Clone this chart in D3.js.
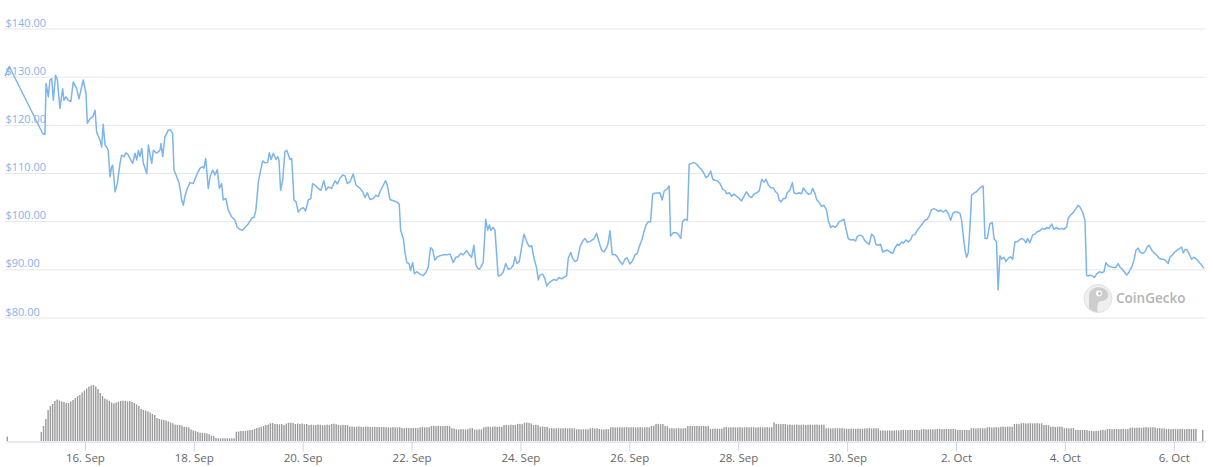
<!DOCTYPE html>
<html><head><meta charset="utf-8">
<script src="https://cdn.jsdelivr.net/npm/d3@7"></script>
<style>html,body{margin:0;padding:0;background:#fff;} svg{display:block;font-family:"Open Sans",sans-serif;}</style>
</head><body>
<svg id="chart" width="1213" height="467"></svg>
<script>
// ---- data ----
const startTime = Date.UTC(2020, 8, 14, 13); // hour 0
const endHour = 529;
const priceTicks = [80, 90, 100, 110, 120, 130, 140];
const dateTicks = ["2020-09-16","2020-09-18","2020-09-20","2020-09-22","2020-09-24","2020-09-26","2020-09-28","2020-09-30","2020-10-02","2020-10-04","2020-10-06"];
// [hours since start, price USD]
const priceSeries = [[0,130.0],[1.9,132.0],[16.6,118.1],[17.6,117.9],[18.1,128.5],[19.1,125.7],[19.8,129.2],[20.6,129.5],[21.3,125.0],[22.3,130.2],[23.1,129.2],[24.2,123.3],[25.4,127.4],[26.0,125.0],[26.9,125.7],[27.9,125.0],[29.0,124.7],[30.1,128.8],[31.6,127.4],[32.6,125.3],[33.8,127.8],[34.5,129.2],[35.7,126.4],[36.3,120.2],[37.5,121.2],[38.7,121.6],[39.7,122.9],[40.4,118.4],[41.9,116.7],[42.6,115.3],[43.3,120.0],[44.1,115.7],[44.8,115.3],[45.5,114.6],[46.3,109.1],[47.0,111.2],[47.5,111.5],[48.5,106.0],[49.5,107.7],[50.7,111.9],[51.4,113.6],[52.5,113.3],[53.3,114.1],[54.4,113.6],[55.4,112.6],[56.3,111.9],[57.3,114.0],[58.1,112.6],[58.8,114.6],[59.5,113.3],[60.3,115.0],[61.0,111.9],[62.5,109.8],[63.2,115.7],[64.7,111.9],[65.4,114.6],[66.9,114.0],[68.3,114.6],[68.8,116.0],[69.5,113.3],[70.5,117.4],[72.0,118.8],[73.0,118.8],[73.9,118.1],[74.5,110.5],[75.7,109.1],[76.8,107.7],[77.9,104.3],[78.6,103.2],[79.3,105.0],[80.1,106.3],[81.5,107.9],[83.0,107.7],[84.5,109.5],[86.0,110.9],[87.1,111.2],[87.7,110.9],[88.5,112.9],[89.6,106.7],[90.4,109.1],[91.6,110.5],[92.6,109.5],[93.6,110.6],[94.5,106.7],[95.5,107.7],[96.2,104.3],[97.4,104.6],[98.4,102.2],[99.9,100.8],[101.4,100.1],[102.4,98.6],[103.6,98.2],[104.6,98.0],[105.8,98.6],[107.2,99.3],[108.7,100.5],[109.8,100.7],[110.6,102.2],[111.7,108.1],[112.7,110.5],[113.6,112.4],[114.6,112.0],[115.8,112.1],[116.5,114.1],[117.3,112.7],[118.3,114.0],[119.5,112.7],[120.2,113.3],[120.8,112.5],[121.5,106.3],[122.4,108.4],[123.4,114.3],[124.2,114.6],[124.7,114.0],[125.6,112.7],[126.4,112.9],[127.4,104.3],[128.3,103.9],[129.3,101.8],[130.5,102.5],[131.5,102.7],[132.5,102.0],[133.7,104.3],[134.8,104.6],[135.6,107.7],[136.6,107.4],[138.1,106.7],[139.2,106.3],[139.7,107.0],[140.6,108.3],[141.5,106.3],[142.5,107.0],[144.0,106.7],[145.5,108.3],[146.5,107.6],[147.7,108.8],[148.9,109.5],[149.9,109.3],[150.9,107.7],[152.1,108.1],[153.5,109.7],[154.7,107.4],[156.5,106.7],[157.7,106.0],[158.7,104.8],[159.7,105.8],[160.9,104.4],[162.3,104.6],[163.5,105.3],[164.6,105.0],[165.6,106.3],[166.8,107.4],[167.8,108.3],[168.5,107.4],[169.7,104.4],[171.5,104.1],[172.7,103.9],[173.8,103.4],[174.4,98.0],[175.6,96.3],[176.3,93.5],[177.1,91.3],[178.1,91.1],[178.8,89.7],[179.7,91.3],[180.5,89.0],[181.6,89.4],[182.9,88.9],[184.4,88.6],[185.6,89.3],[186.6,90.4],[187.6,94.4],[188.5,94.0],[189.5,91.8],[190.6,92.5],[191.7,92.7],[193.2,92.9],[194.7,92.9],[196.2,93.1],[197.6,91.3],[198.7,92.4],[199.8,92.5],[200.9,93.2],[202.0,92.9],[203.5,93.8],[204.7,92.9],[205.7,92.4],[206.7,94.9],[207.6,90.8],[208.4,90.1],[209.1,89.9],[209.8,90.4],[210.8,91.3],[211.9,100.3],[212.8,98.0],[213.5,99.1],[214.2,98.0],[215.2,98.6],[216.0,98.0],[217.4,88.5],[218.6,88.7],[219.7,89.4],[220.7,91.1],[221.9,89.9],[223.0,90.1],[224.1,90.8],[224.8,92.5],[225.8,91.1],[226.7,91.5],[227.8,94.6],[228.8,97.2],[230.0,95.6],[231.1,94.6],[232.2,94.8],[233.2,92.2],[234.4,90.1],[235.1,87.7],[235.8,88.7],[237.0,88.9],[238.0,88.0],[238.8,86.4],[239.8,87.1],[241.0,87.5],[242.0,87.8],[243.2,87.6],[244.2,88.2],[245.4,87.9],[246.8,88.4],[247.6,88.6],[248.3,92.2],[249.4,93.4],[250.2,92.2],[251.3,91.5],[252.3,91.8],[253.5,94.6],[254.7,95.8],[255.7,96.3],[256.7,95.5],[257.9,95.7],[259.6,96.2],[260.8,97.4],[262.0,95.3],[263.0,93.9],[264.1,93.5],[265.3,94.5],[265.9,95.4],[266.7,97.9],[267.7,92.9],[268.9,93.0],[269.9,92.5],[271.1,91.5],[272.2,90.9],[273.3,92.0],[274.2,92.3],[275.5,91.0],[276.7,91.7],[277.7,92.9],[278.7,93.2],[279.6,94.6],[280.7,96.0],[281.7,97.7],[282.6,99.1],[283.6,99.8],[284.6,99.8],[285.5,105.5],[286.5,105.7],[288.7,105.8],[289.7,104.3],[290.6,106.2],[291.7,106.5],[292.8,107.2],[293.4,96.8],[294.6,97.5],[295.8,97.5],[296.8,97.2],[297.9,96.3],[298.7,99.8],[299.7,100.3],[300.8,100.1],[301.6,111.7],[302.7,111.9],[303.7,112.1],[304.9,111.7],[306.0,111.1],[307.1,110.6],[308.1,109.8],[309.0,108.9],[310.0,109.3],[311.1,110.3],[312.0,108.6],[313.0,108.4],[314.0,108.3],[315.2,107.7],[316.4,106.5],[317.4,106.3],[318.1,105.6],[319.3,105.8],[320.3,105.1],[321.3,105.5],[322.5,105.1],[323.7,104.6],[324.7,104.1],[325.8,105.1],[326.9,106.0],[328.1,105.1],[329.1,104.8],[330.2,105.5],[331.4,105.8],[332.5,106.2],[333.6,108.6],[334.6,108.0],[335.5,108.6],[336.5,107.4],[337.5,106.9],[338.7,106.8],[339.7,106.0],[340.6,105.6],[341.3,104.3],[342.1,103.9],[343.1,104.6],[344.1,104.6],[344.8,105.8],[346.0,106.3],[347.1,107.9],[347.8,105.8],[349.0,105.6],[350.1,105.8],[351.2,105.6],[351.9,106.8],[353.1,106.0],[354.1,105.5],[355.2,105.6],[356.0,106.7],[357.1,105.6],[357.8,104.4],[359.0,103.7],[360.0,103.0],[361.0,103.2],[362.2,102.2],[362.9,100.1],[364.0,98.6],[364.9,98.9],[365.9,98.6],[366.9,99.1],[367.8,99.8],[368.8,100.0],[369.8,100.3],[370.7,98.4],[371.7,96.3],[372.8,96.0],[373.9,96.1],[375.0,95.8],[375.7,96.7],[376.9,97.0],[378.1,96.7],[379.1,95.8],[380.1,95.4],[381.0,95.1],[382.0,97.2],[383.1,96.7],[383.9,95.1],[385.0,94.9],[386.0,95.1],[386.9,93.5],[387.9,93.7],[388.9,93.9],[390.1,93.5],[391.3,93.2],[392.3,94.3],[393.3,95.1],[394.2,94.9],[395.3,95.6],[396.0,95.3],[397.2,96.0],[398.2,95.6],[399.3,96.1],[400.1,97.0],[401.1,97.1],[402.2,98.0],[403.3,98.7],[404.5,99.4],[405.5,100.1],[406.6,100.3],[407.4,101.0],[408.5,102.3],[409.5,102.5],[410.4,102.3],[411.4,101.9],[412.5,102.2],[413.6,101.8],[414.8,102.2],[415.8,101.5],[416.9,100.1],[417.8,101.5],[418.8,101.8],[419.8,101.8],[421.0,101.5],[421.7,100.1],[422.4,97.0],[423.2,93.9],[423.9,92.4],[424.6,93.3],[425.4,98.7],[426.1,105.3],[427.1,105.7],[428.3,106.0],[429.5,106.7],[430.5,107.0],[431.2,107.2],[432.0,96.3],[433.0,96.3],[434.2,99.4],[435.2,99.6],[436.0,96.3],[437.1,95.6],[437.8,85.6],[438.6,92.7],[439.4,92.0],[440.4,92.4],[441.2,91.5],[442.3,92.2],[443.3,92.5],[444.2,92.0],[445.2,95.6],[446.2,95.6],[447.2,96.0],[448.2,96.3],[449.2,96.0],[450.1,95.4],[450.8,96.3],[451.8,95.4],[453.0,97.0],[454.0,97.2],[455.0,97.7],[456.2,97.9],[457.4,98.4],[458.4,98.2],[459.4,98.6],[460.3,98.4],[461.4,99.3],[462.4,98.2],[463.6,98.6],[464.7,98.2],[465.8,98.4],[466.8,98.2],[468.0,98.7],[468.7,100.5],[469.8,101.2],[470.9,101.7],[472.1,102.5],[473.1,103.2],[473.9,102.8],[475.1,101.7],[476.1,100.1],[476.8,88.7],[477.5,88.5],[478.6,88.7],[479.4,88.5],[480.2,88.2],[481.2,88.9],[482.4,89.4],[483.4,89.2],[484.5,89.4],[485.3,91.3],[486.4,90.6],[487.4,90.4],[488.5,90.3],[489.7,90.3],[490.7,91.1],[491.5,90.4],[492.7,89.8],[493.7,89.2],[494.5,88.7],[495.6,89.4],[496.7,90.4],[497.7,91.8],[498.6,93.9],[499.6,94.3],[500.3,93.5],[501.5,93.2],[502.5,93.5],[503.5,94.5],[504.4,94.9],[505.5,93.9],[506.5,93.3],[507.7,92.9],[508.8,92.2],[509.9,92.0],[510.9,92.0],[512.1,91.5],[512.8,91.1],[513.5,92.4],[514.7,92.9],[515.7,93.5],[516.8,93.9],[518.0,94.3],[518.7,94.5],[519.4,93.3],[520.2,94.0],[521.0,94.0],[521.9,93.2],[523.1,92.0],[524.1,92.4],[525.3,92.0],[526.5,91.3],[527.5,90.8],[528.5,90.1]];
// hourly volume, index = hours since start (relative units), null = no bar
const volumeValues = [null,4.5,null,null,null,null,null,null,null,null,null,null,null,null,null,null,
9,15,22,31,35,37,40,41.5,40.5,39.5,39,38,38,39.5,41,43,45,46,48.5,50.5,52.5,54.5,55.5,56,54.5,52,48,45,42.5,41.5,40,38.5,37.7,38.5,39.3,40,40.3,40,39.5,40,39,38,36.5,35,32,31,30.5,29.5,28.5,27,26,23,22,21.5,21,20.5,19.5,18.5,17.7,16.5,16,16,15.5,14.3,14,13.5,11.5,10.5,10,9,8.3,8.3,8,7.5,6.8,5.5,5,3,2.7,2.7,2.7,2.7,2.7,2.7,2.7,2.7,9.3,9.5,10,10,10,10.5,11,11,12,13,13.5,14.3,15,16,16.5,17.7,18,17,17,16.7,17,16,17.5,18.3,18.3,18,17,17.5,
17,17.5,16.8,17,16,16.3,15.8,16,16.5,16.2,15.7,16,16.4,16,17,17.3,16.8,16,15.7,16.2,16,15.8,14.3,14.5,14,14.3,14.6,14.2,14,14.4,14.3,14,13.8,14.2,14,13.9,14.1,14,13.8,13.7,13.5,13.9,13.7,13.6,13.8,13,12.8,13.2,13,12.9,13.1,13,12.8,13.7,13.9,13.6,13.7,13.8,15,15.2,14.8,15.3,15,14.9,15.1,15.2,14.8,12.7,12.5,11.7,11.5,11.9,11.7,11.6,11.8,12.7,12.9,11.5,11.3,11.7,11.5,13.7,14.3,14.5,14.1,14.3,14.6,14.2,14.4,14.3,16,16.2,15.8,16.3,16,16.1,17,17.2,16.8,18.3,18.5,18.1,17.5,16,16.2,15.8,14.3,14.5,14.1,14.2,12.7,12.9,12.5,12.7,12.8,12.6,12.7,12.9,12.5,12.7,12.8,12.6,11.7,11.9,11.5,11.7,11.8,11.6,12.7,12.9,12.5,12.7,
12,
11.7,11.5,11.9,11.7,13.7,13.9,13.5,13.7,13.8,13.6,13.7,13.9,13.5,13.7,13.8,13.6,13.7,13.9,13.5,13.7,13.8,13.6,15,15.2,17,17.2,16.8,17,15,14.8,12.7,12.9,12.5,12.7,12.8,12.6,12.7,12.9,15,15.2,14.8,15,15.1,14.9,15,15.2,14.8,15,12.3,12.1,12.5,12.3,12.2,12.4,13.7,13.9,13.5,13.7,13.8,13.6,13.7,13.9,13.5,13.7,13.8,13.6,13.7,13.9,13.5,13.7,13.8,13.6,13.7,13.9,13.5,13.7,18.7,17,17.2,16.8,17,17.1,16.3,16.5,16.1,16.3,16.4,16.2,16.3,16.5,16.1,16.3,16.4,16.2,16.3,16.5,16.1,16.3,16.4,12.7,12.9,12.5,12.7,12.8,12.6,12.7,12.9,12.5,12.3,12.1,12.5,12.3,12.2,12.4,12.3,12.1,12.5,12.7,12.9,12.5,12.7,12.8,12.6,10.5,10.7,10.3,10.5,10.6,10.4,10.5,10.7,10.3,
11,11.2,10.8,11,11.1,10.9,11,11.2,10.8,11.7,11.9,11.5,11.7,11.8,11.6,11.7,12,12.2,11.8,12,12.1,11.9,12,12.2,11.8,11,11.2,10.8,11,11.1,10.9,12.7,12.9,12.5,12.7,12.8,12.6,12.7,13.7,13.9,13.5,13.7,13.8,13.6,14.3,14.5,14.1,14.3,14.4,14.2,17,17.2,16.8,17.7,17.9,17.5,17.7,17.8,17.6,17.7,17.9,17.5,17.7,16,16.2,15.8,14.3,14.5,14.1,14.3,14.4,14.2,12.7,12.9,12.5,12.7,12.8,11,11.2,10.8,11,11.1,10.9,10,10.2,9.8,10,10.1,11,11.2,10.8,12,12.2,11.8,12,12.1,11.9,12,12.2,11.8,12,13.3,13.5,13.1,13.3,13.4,13.2,13.7,13.9,13.5,13.7,13.8,13.6,12.7,12.9,12.5,12.7,12,12.2,11.8,12,12.1,11.9,12,12.2,11.8,12,12.1,11.9,12,12.2,null,null,11];

// ---- drawing ----
const hourMs = 3600e3;
const toDate = h => new Date(startTime + h * hourMs);
const svg = d3.select("#chart");

const x = d3.scaleUtc().domain([toDate(0), toDate(endHour)]).range([5, 1205]);
const y = d3.scaleLinear().domain([80, 140]).range([317, 28]);
const yv = d3.scaleLinear().domain([0, d3.max(volumeValues)]).range([441, 385]);

// grid + y labels
const gy = svg.append("g").attr("transform", "translate(5,0.5)")
  .call(d3.axisLeft(y).tickValues(priceTicks).tickSize(-1200)
    .tickFormat(d => "$" + d3.format(".2f")(d)));
gy.select(".domain").remove();
gy.selectAll(".tick line").attr("stroke", "#e6e6e6");
gy.selectAll(".tick text").attr("x", 0.5).attr("dy", -2.5)
  .attr("text-anchor", "start").attr("fill", "#86b3ea")
  .style("font-size", "11px").style("font-family", "'Open Sans',sans-serif");

// volume bars
const vol = volumeValues.map((v, h) => ({h, v})).filter(d => d.v != null);
svg.append("g").selectAll("rect").data(vol).join("rect")
  .attr("x", d => x(toDate(d.h)) - 0.7)
  .attr("width", 1.4)
  .attr("y", d => yv(d.v))
  .attr("height", d => 441 - yv(d.v))
  .attr("fill", "#9a9a9a");

// x axis
const parse = d3.utcParse("%Y-%m-%d");
const gx = svg.append("g").attr("transform", "translate(0.5,441.5)")
  .call(d3.axisBottom(x).tickValues(dateTicks.map(parse))
    .tickFormat(d3.utcFormat("%-d. %b")).tickSize(10).tickSizeOuter(0).tickPadding(2));
gx.select(".domain").attr("stroke", "#ccd6eb");
gx.selectAll(".tick line").attr("stroke", "#ccd6eb");
gx.selectAll(".tick text").attr("fill", "#666")
  .style("font-size", "11.5px").style("font-family", "'Open Sans',sans-serif");

// price line
const line = d3.line().x(d => x(toDate(d[0]))).y(d => y(d[1]));
svg.append("path").datum(priceSeries).attr("d", line)
  .attr("fill", "none").attr("stroke", "#7cb5ec").attr("stroke-width", 1.5)
  .attr("stroke-linejoin", "round");

// CoinGecko watermark
const wm = svg.append("g").attr("transform", "translate(1098,298.5)");
wm.append("clipPath").attr("id", "logoClip").append("circle").attr("r", 13.5);
wm.append("circle").attr("r", 14).attr("fill", "#efefef").attr("stroke", "#e2e2e2");
const head = wm.append("g").attr("clip-path", "url(#logoClip)");
head.append("path")
  .attr("d", "M-9,16 L-9,-2 C-9,-9 -3,-12 3,-11 C8,-10 11,-6 10,-2 C9,2 4,3 1,3 C-1,6 -1,10 0,16 Z")
  .attr("fill", "#cdcdcd");
wm.append("circle").attr("cx", 1).attr("cy", -5).attr("r", 3).attr("fill", "#fff");
wm.append("circle").attr("cx", 1.5).attr("cy", -5).attr("r", 1.4).attr("fill", "#bdbdbd");
svg.append("text").attr("x", 1116).attr("y", 302.5).text("CoinGecko")
  .attr("fill", "#b3b3b3").style("font-size", "13.5px").style("font-weight", "600")
  .style("font-family", "'Open Sans',sans-serif");
</script>
</body></html>
